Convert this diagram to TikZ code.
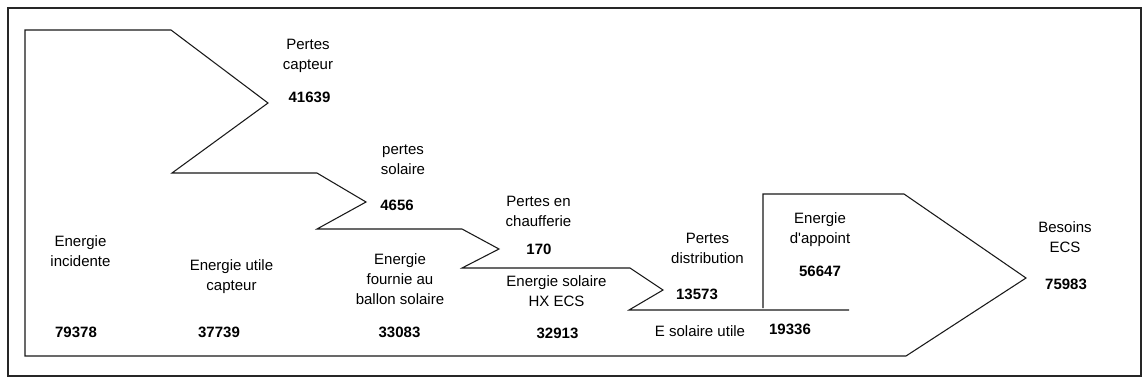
\documentclass[tikz,border=0pt]{standalone}
\usepackage{fontspec}
\setmainfont{Liberation Sans}[Ligatures=TeXOff]
\begin{document}
\begin{tikzpicture}[x=0.75pt,y=-0.75pt,
  lbl/.style={font=\fontsize{11.25}{15}\selectfont, align=center, anchor=base, inner sep=0pt},
  num/.style={font=\fontsize{11.25}{15}\selectfont\bfseries, anchor=base, inner sep=0pt},
  flow/.style={draw=black!90, line width=0.8pt, line join=miter},
  frame/.style={draw=black!85, line width=0.9pt}]
\useasboundingbox (0,0) rectangle (1144,383);
\draw[frame] (8,8) rectangle (1141,376);
% energy flow outline
\coordinate (s0) at (849,310);
\coordinate (s1) at (763,308);
\draw[flow] (s0) -- (629,310) -- (663,290) -- (630,268) -- (462,268) -- (499,249)
  -- (462,229) -- (317,229) -- (366,202) -- (317,173) -- (172,173) -- (268,103)
  -- (171,30) -- (25,30) -- (25,356) -- (906,356) -- (1026,278) -- (904,194)
  -- (763,194) -- (s1);
% labels (base anchor = baseline of the last line)
\node[lbl] (pc) at (308,69) {Pertes\\capteur};
\node[num] (pcn) at (309.5,102) {41639};
\node[lbl] (ps) at (403,174) {pertes\\solaire};
\node[num] (psn) at (397,210) {4656};
\node[lbl] (pch) at (538.5,226) {Pertes en\\chaufferie};
\node[num] (pchn) at (539,254) {170};
\node[lbl] (ef) at (400,304) {Energie\\fournie au\\ballon solaire};
\node[num] (efn) at (399.5,337) {33083};
\node[lbl] (es) at (556.5,306) {Energie solaire\\HX ECS};
\node[num] (esn) at (557.5,338) {32913};
\node[lbl] (pd) at (707.5,263) {Pertes\\distribution};
\node[num] (pdn) at (697,299) {13573};
\node[lbl] (ea) at (820,243) {Energie\\d'appoint};
\node[num] (ean) at (820,276) {56647};
\node[lbl] (be) at (1065,252) {Besoins\\ECS};
\node[num] (ben) at (1066,289) {75983};
\node[lbl] (esu) at (700,336) {E solaire utile};
\node[num] (esun) at (790,334) {19336};
\node[lbl] (ei) at (80.5,266) {Energie\\incidente};
\node[num] (ein) at (76,337) {79378};
\node[lbl] (eu) at (231.5,290) {Energie utile\\capteur};
\node[num] (eun) at (219,337) {37739};
\end{tikzpicture}
\end{document}
